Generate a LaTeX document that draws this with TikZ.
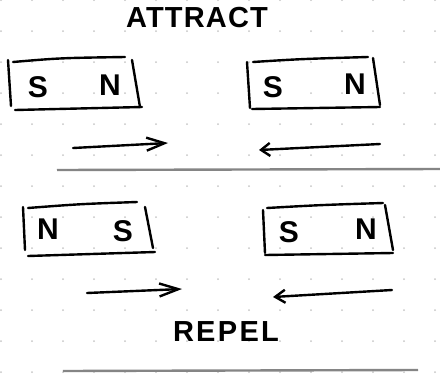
\documentclass[tikz,border=0pt]{standalone}
\usepackage{fontspec}
\setmainfont{Liberation Sans}
\usetikzlibrary{arrows.meta}
\begin{document}
\begin{tikzpicture}[x=1pt,y=-1pt,
  ink/.style={line width=2.4pt, line cap=round, line join=round, black},
  pole/.style={font=\bfseries\fontsize{30}{30}\selectfont, inner sep=0pt},
  heading/.style={font=\bfseries\fontsize{29}{29}\selectfont\addfontfeature{LetterSpace=4}, inner sep=0pt},
  rule/.style={line width=2.4pt, color=black!48},
  griddot/.style={fill=black!22},
]
\useasboundingbox[fill=white] (0,0) rectangle (440,376);

% dotted paper
\foreach \i in {0,...,14}
  \foreach \j in {0,...,12}
    \fill[griddot] (1+31*\i,31*\j) circle (1pt);

% ---------- attract ----------
\node[heading] (attract) at (197,18) {ATTRACT};

% left magnet
\draw[ink] (8,60) -- (11,106);
\draw[ink] (13,62) .. controls (60,58) .. (125,57);
\draw[ink] (132,60) -- (140,107);
\draw[ink] (15,110) -- (142,107);
\node[pole] (s1) at (38,87) {S};
\node[pole] (n1) at (110,85) {N};

% right magnet
\draw[ink] (247,62) -- (250,108);
\draw[ink] (253,62) .. controls (300,59) .. (368,57);
\draw[ink] (373,58) -- (380,105);
\draw[ink] (252,109) -- (380,107);
\node[pole] (s2) at (273,87) {S};
\node[pole] (n2) at (355,84) {N};

% motion arrows
\coordinate (a1s) at (73,148);  \coordinate (a1e) at (168,143);
\coordinate (a2s) at (380,144); \coordinate (a2e) at (259,150);
\draw[ink,-{Straight Barb[length=18pt,width=13pt]}] (a1s) -- (a1e);
\draw[ink,-{Straight Barb[length=9pt,width=13pt]}] (a2s) -- (a2e);

% separator
\coordinate (r1s) at (57,170); \coordinate (r1e) at (440,169);
\draw[rule] (r1s) -- (r1e);

% ---------- repel ----------
% left magnet
\draw[ink] (23,207) -- (25,250);
\draw[ink] (28,208) .. controls (80,204) .. (137,202);
\draw[ink] (145,207) -- (153,248);
\draw[ink] (28,256) -- (155,252);
\node[pole] (n3) at (48,229) {N};
\node[pole] (s3) at (123,231) {S};

% right magnet
\draw[ink] (263,210) -- (265,253);
\draw[ink] (267,208) .. controls (320,205) .. (383,203);
\draw[ink] (385,205) -- (393,250);
\draw[ink] (265,255) -- (393,253);
\node[pole] (s4) at (289,232) {S};
\node[pole] (n4) at (366,229) {N};

% motion arrows
\coordinate (a3s) at (87,293);  \coordinate (a3e) at (182,289);
\coordinate (a4s) at (392,290); \coordinate (a4e) at (273,297);
\draw[ink,-{Straight Barb[length=19pt,width=13pt]}] (a3s) -- (a3e);
\draw[ink,-{Straight Barb[length=10pt,width=13pt]}] (a4s) -- (a4e);

\node[heading,font=\bfseries\fontsize{29}{29}\selectfont\addfontfeature{LetterSpace=8}] (repel) at (226,332) {REPEL};

% separator
\coordinate (r2s) at (63,371); \coordinate (r2e) at (418,370);
\draw[rule] (r2s) -- (r2e);
\end{tikzpicture}
\end{document}
